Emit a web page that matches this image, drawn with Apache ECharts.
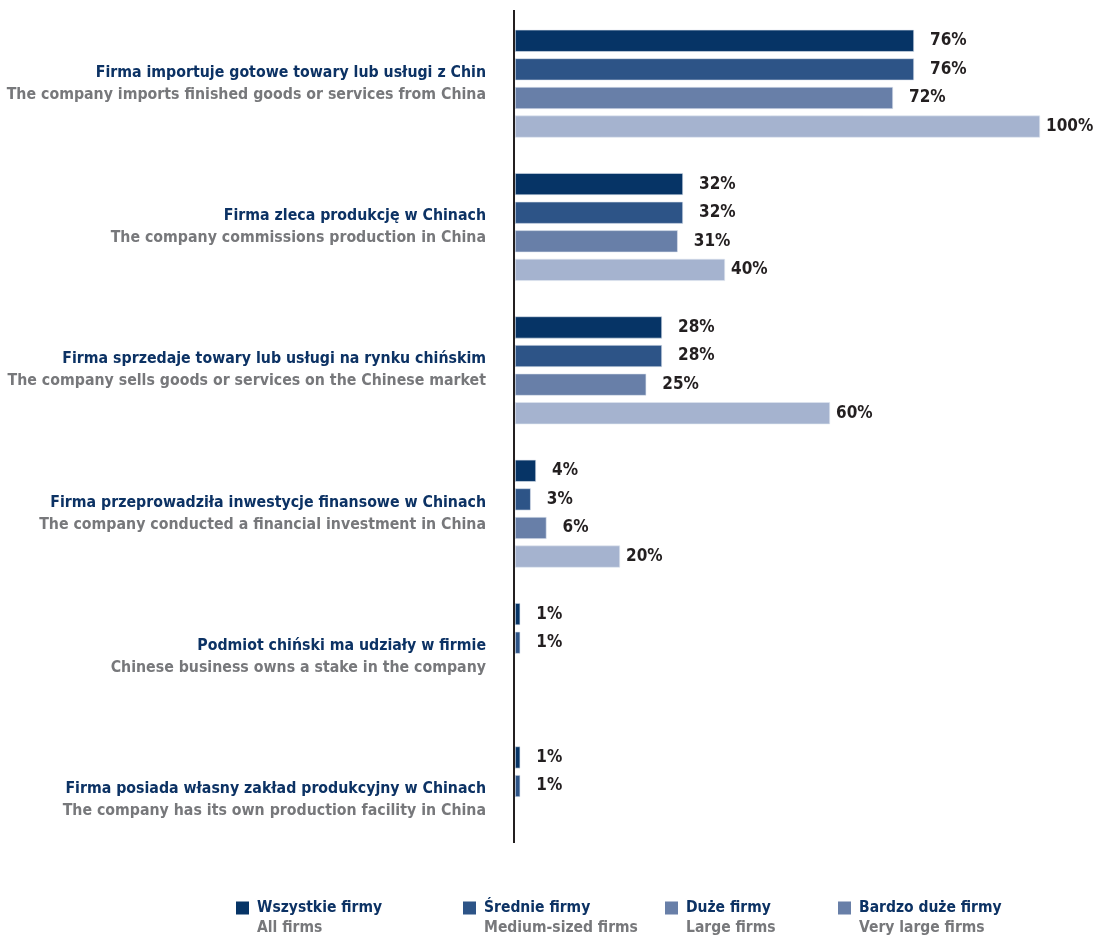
<!DOCTYPE html>
<html>
<head>
<meta charset="utf-8">
<script src="https://cdn.jsdelivr.net/npm/echarts@6/dist/echarts.min.js"></script>
<style>
  html, body { margin: 0; padding: 0; background: #fff; }
  #chart { width: 1101px; height: 936px; }
</style>
</head>
<body>
<div id="chart"></div>
<script>
// Category labels (Polish / English)
const categoriesPl = [
  'Firma importuje gotowe towary lub usługi z Chin',
  'Firma zleca produkcję w Chinach',
  'Firma sprzedaje towary lub usługi na rynku chińskim',
  'Firma przeprowadziła inwestycje finansowe w Chinach',
  'Podmiot chiński ma udziały w firmie',
  'Firma posiada własny zakład produkcyjny w Chinach'
];
const categoriesEn = [
  'The company imports finished goods or services from China',
  'The company commissions production in China',
  'The company sells goods or services on the Chinese market',
  'The company conducted a financial investment in China',
  'Chinese business owns a stake in the company',
  'The company has its own production facility in China'
];

// Series names (Polish / English)
const seriesPl = ['Wszystkie firmy', 'Średnie firmy', 'Duże firmy', 'Bardzo duże firmy'];
const seriesEn = ['All firms', 'Medium-sized firms', 'Large firms', 'Very large firms'];

// Shares of firms, in percent
const allFirms    = [76, 32, 28, 4, 1, 1];
const mediumFirms = [76, 32, 28, 3, 1, 1];
const largeFirms  = [72, 31, 25, 6, null, null];
const veryLarge   = [100, 40, 60, 20, null, null];

const seriesValues = [allFirms, mediumFirms, largeFirms, veryLarge];
const colors = ['#063466', '#2d5487', '#687fa8', '#a5b3cf'];
const legendColors = ['#063466', '#2d5487', '#687fa8', '#687fa8'];
const legendLeft = [236, 463, 665, 838];
const labelDistance = [16, 16, 16, 6];

const FONT = "'DejaVu Sans Condensed', 'Liberation Sans Narrow', sans-serif";
const NAVY = '#0c3264';
const GREY = '#77787b';

// square swatch sitting on the first text line of a two-line legend entry
const SWATCH = 'path://M0,0H13V13H0Z M0,33L0.01,33';

const chart = echarts.init(document.getElementById('chart'));

const option = {
  animation: false,
  backgroundColor: '#fff',
  grid: { left: 515, right: 61, top: 12, bottom: 64, outerBoundsMode: 'none' },
  xAxis: {
    type: 'value', min: 0, max: 100,
    show: false
  },
  yAxis: {
    type: 'category',
    inverse: true,
    data: categoriesPl.map((c, i) => c + '\n' + categoriesEn[i]),
    axisLine: { show: false },
    axisTick: { show: false },
    axisLabel: {
      margin: 29,
      align: 'right',
      formatter: function (v, i) {
        return '{a|' + categoriesPl[i] + '}\n{b|' + categoriesEn[i] + '}';
      },
      rich: {
        a: { fontFamily: FONT, fontWeight: 'bold', fontSize: 15.75, color: NAVY, lineHeight: 22, align: 'right' },
        b: { fontFamily: FONT, fontWeight: 'bold', fontSize: 15.75, color: GREY, lineHeight: 22, align: 'right' }
      }
    }
  },
  legend: seriesPl.map((n, i) => ({
    top: 900,
    left: legendLeft[i],
    padding: 0,
    itemWidth: 13,
    itemHeight: 33,
    itemGap: 0,
    icon: SWATCH,
    itemStyle: { borderWidth: 0 },
    data: [{ name: n, itemStyle: { color: legendColors[i], borderWidth: 0 } }],
    formatter: function (name) {
      const k = seriesPl.indexOf(name);
      return '{a|' + name + '}\n{b|' + seriesEn[k] + '}';
    },
    textStyle: {
      padding: [0, 0, 0, 3],
      rich: {
        a: { fontFamily: FONT, fontWeight: 'bold', fontSize: 15.5, color: NAVY, lineHeight: 20 },
        b: { fontFamily: FONT, fontWeight: 'bold', fontSize: 15.5, color: GREY, lineHeight: 20 }
      }
    }
  })),
  series: seriesPl.map((name, s) => ({
    name: name,
    type: 'bar',
    data: seriesValues[s],
    barWidth: 22,
    barGap: '30%',
    itemStyle: { color: colors[s], borderColor: '#dfe5f0', borderWidth: 0.6 },
    label: {
      show: true,
      position: 'right',
      distance: labelDistance[s],
      formatter: p => (p.value == null ? '' : p.value + '%'),
      fontFamily: FONT,
      fontWeight: 'bold',
      fontSize: 17,
      color: '#231f20'
    }
  }))
};

chart.setOption(option);

// Vertical baseline at zero
const x0 = chart.convertToPixel({ xAxisIndex: 0 }, 0);
chart.setOption({
  graphic: [{
    type: 'line',
    shape: { x1: x0 - 1, y1: 10, x2: x0 - 1, y2: 843 },
    style: { stroke: '#231f20', lineWidth: 2 },
    z: 10
  }]
});
</script>
</body>
</html>
